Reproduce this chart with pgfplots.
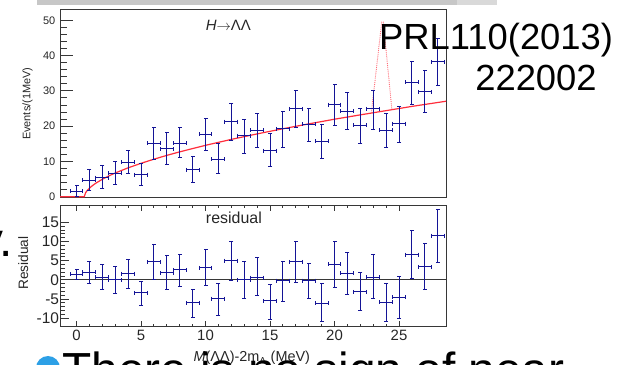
\documentclass[border=0pt]{standalone}
\usepackage{pgfplots}
\pgfplotsset{compat=1.18}
\usepackage{pgfplotstable}
\usepackage{fontspec}
\setmainfont{Liberation Sans}
\definecolor{dblue}{RGB}{20,20,150}
\definecolor{fitred}{RGB}{255,45,60}
\definecolor{framec}{RGB}{55,55,55}
\definecolor{bulletblue}{RGB}{45,160,230}

\pgfplotstableread{
x y ep em
0 1.5 1.6 1.5
1 4.7 2.9 3.0
2 5.4 3.4 3.0
3 6.7 3.4 3.3
4 9.8 3.4 3.1
5 6.3 3.0 3.2
6 15.1 4.6 4.5
7 13.6 4.5 4.4
8 15.2 4.5 4.1
9 7.6 3.8 3.5
10 17.7 4.6 4.5
11 10.6 4.4 3.9
12 21.3 5.1 5.3
13 17.3 4.7 5.0
14 18.8 4.7 4.8
15 13.1 4.8 4.6
16 19.2 4.9 5.1
17 24.9 5.3 5.4
18 20.5 4.5 4.7
19 15.7 4.7 4.9
20 26.1 5.7 5.8
21 24.2 5.4 5.1
22 20.2 4.8 5.0
23 24.9 5.3 5.8
24 18.8 4.7 4.8
25 20.7 4.9 5.2
26 32.4 5.8 6.4
27 29.7 6.0 5.9
28 38.2 6.7 6.8
}\topdata

\pgfplotstableread{
x y ep em
0 1.5 1.3 1.5
1 2.0 2.9 2.9
2 0.7 3.3 3.2
3 0.0 3.4 3.5
4 1.6 3.6 3.9
5 -3.4 3.0 3.4
6 4.7 4.4 4.5
7 1.8 4.6 4.4
8 2.6 4.1 4.4
9 -6.0 3.4 3.7
10 3.1 4.8 4.5
11 -4.9 4.0 4.3
12 5.0 5.0 5.2
13 0.0 4.9 4.9
14 0.6 5.2 4.7
15 -5.5 4.4 4.7
16 -0.2 5.1 5.4
17 4.7 5.3 5.4
18 -0.2 4.5 4.7
19 -6.1 5.1 4.8
20 4.1 6.0 6.0
21 1.7 5.4 5.4
22 -3.1 5.1 5.0
23 0.7 5.8 5.6
24 -5.8 4.8 5.0
25 -4.5 5.3 5.6
26 6.6 6.2 6.2
27 3.4 6.1 5.9
28 11.5 6.7 6.9
}\resdata

\pgfplotsset{
  rootframe/.style={
    scale only axis, anchor=south west, width=386bp,
    xmin=-1.28, xmax=28.64,
    tick align=inside,
    axis line style={framec, line width=1bp},
    every tick/.style={framec, line width=0.9bp},
    /pgf/number format/assume math mode=true,
  },
  capsh/.style={dblue, only marks, mark=-, mark size=2bp, mark options={dblue, line width=1bp}},
  capsv/.style={dblue, only marks, mark=|, mark size=2bp, mark options={dblue, line width=1bp}},
}
\newcommand{\drawbars}[1]{%
  \pgfplotsinvokeforeach{0,...,28}{%
    \pgfplotstablegetelem{##1}{x}\of{#1}\edef\bx{\pgfplotsretval}%
    \pgfplotstablegetelem{##1}{y}\of{#1}\edef\by{\pgfplotsretval}%
    \pgfplotstablegetelem{##1}{ep}\of{#1}\edef\bp{\pgfplotsretval}%
    \pgfplotstablegetelem{##1}{em}\of{#1}\edef\bm{\pgfplotsretval}%
    \pgfmathsetmacro{\bhi}{\by+\bp}\pgfmathsetmacro{\blo}{\by-\bm}%
    \pgfmathsetmacro{\bl}{\bx-0.5}\pgfmathsetmacro{\br}{\bx+0.5}%
    \addplot[dblue, line width=1bp] coordinates {(\bx,\blo) (\bx,\bhi)};
    \addplot[dblue, line width=1bp] coordinates {(\bl,\by) (\br,\by)};
  }%
  \addplot[capsh] table[x=x, y expr=\thisrow{y}+\thisrow{ep}] {#1};
  \addplot[capsh] table[x=x, y expr=\thisrow{y}-\thisrow{em}] {#1};
  \addplot[capsv] table[x expr=\thisrow{x}-0.5, y=y] {#1};
  \addplot[capsv] table[x expr=\thisrow{x}+0.5, y=y] {#1};
}

\begin{document}
\begin{tikzpicture}
\useasboundingbox (0bp,0bp) rectangle (623bp,365bp);
\begin{scope}
\clip (0bp,0bp) rectangle (623bp,365bp);
\fill[black!22] (37bp,360bp) rectangle (457bp,365bp);
\fill[black!15] (457bp,360bp) rectangle (497bp,365bp);

% ---------- top panel ----------
\begin{axis}[rootframe,
  at={(60bp,167.5bp)}, height=187.5bp,
  ymin=-0.2, ymax=52.9,
  xtick=\empty, ytick={0,10,...,50}, minor y tick num=4, ytick pos=left,
  major tick length=13bp, minor tick length=6.5bp,
  yticklabel style={font=\fontsize{11}{12}\selectfont, text=black!85, inner sep=4.5bp},
  ylabel={Events/(1MeV)},
  ylabel style={at={(rel axis cs:-0.084,0.5)}, anchor=center, font=\fontsize{11}{13}\selectfont, text=black!85},
]
\addplot[fitred, line width=1.2bp] coordinates {
(-1.28,0) (0.6,0) (0.7,1.11) (0.8,1.65) (1.0,2.44) (1.25,3.21) (1.5,3.86) (2,4.96)
(2.5,5.90) (3,6.74) (4,8.2) (5,9.48) (6,10.65) (7,11.73) (8,12.73) (10,14.58)
(12,16.26) (14,17.81) (16,19.27) (18,20.65) (20,21.97) (22,23.2) (24,24.4)
(26,25.6) (28.64,27.06)};
\addplot[fitred!70, densely dotted, line width=0.9bp] coordinates {
(22.85,23.7) (23.66,49.5) (23.78,49.5) (24.45,24.5)};
\drawbars{\topdata}
\node[anchor=base, font=\fontsize{15}{18}\selectfont, text=black!85] at (axis cs:11.77,47.0) {\textit{H}$\rightarrow$ΛΛ};
\end{axis}

% ---------- residual panel (y ticks) ----------
\begin{axis}[rootframe,
  at={(60bp,38.3bp)}, height=121.7bp,
  ymin=-12.2, ymax=19.5,
  xtick=\empty, ytick={-10,-5,...,15}, minor y tick num=4, ytick pos=left,
  major tick length=9bp, minor tick length=4.5bp,
  yticklabel style={font=\fontsize{15.5}{17}\selectfont, text=black!85, inner sep=0.8bp},
  ylabel={Residual},
  ylabel style={at={(rel axis cs:-0.095,0.523)}, anchor=center, font=\fontsize{13.7}{16}\selectfont, text=black!85},
]
\addplot[framec, line width=1bp] coordinates {(-1.28,0) (28.64,0)};
\drawbars{\resdata}
\node[anchor=base, font=\fontsize{16}{18}\selectfont, text=black!85] at (axis cs:12.2,14.8) {residual};
\end{axis}

% ---------- residual panel (x ticks) ----------
\begin{axis}[rootframe,
  at={(60bp,38.3bp)}, height=121.7bp,
  ymin=-12.2, ymax=19.5,
  ytick=\empty, xtick={0,5,...,25}, minor x tick num=4,
  xtick pos=both, xticklabel pos=lower,
  major tick length=5.5bp, minor tick length=3bp,
  xticklabel style={font=\fontsize{15}{17}\selectfont, text=black!85},
  xlabel={\textit{M}(ΛΛ)-2m\textsubscript{Λ} (MeV)},
  xlabel style={at={(rel axis cs:0.497,-0.29)}, anchor=base, font=\fontsize{14.5}{17}\selectfont, text=black!85},
]
\end{axis}

% ---------- slide text ----------
\node[anchor=base west, inner sep=0, text=black, font=\fontsize{36.5}{40}\selectfont] at (379bp,315.7bp) {PRL110(2013)};
\node[anchor=base, inner sep=0, text=black, font=\fontsize{36.5}{40}\selectfont] at (536bp,274.3bp) {222002};
\node[anchor=base west, inner sep=0, text=black, font=\fontsize{48}{50}\selectfont] at (-20.6bp,108bp) {y.};
\fill[bulletblue] (48bp,-3bp) circle (12bp);
\node[anchor=base west, inner sep=0, text=black, font=\fontsize{48}{50}\selectfont] at (62bp,-21.4bp) {There is no sign of near};
\end{scope}
\end{tikzpicture}
\end{document}
